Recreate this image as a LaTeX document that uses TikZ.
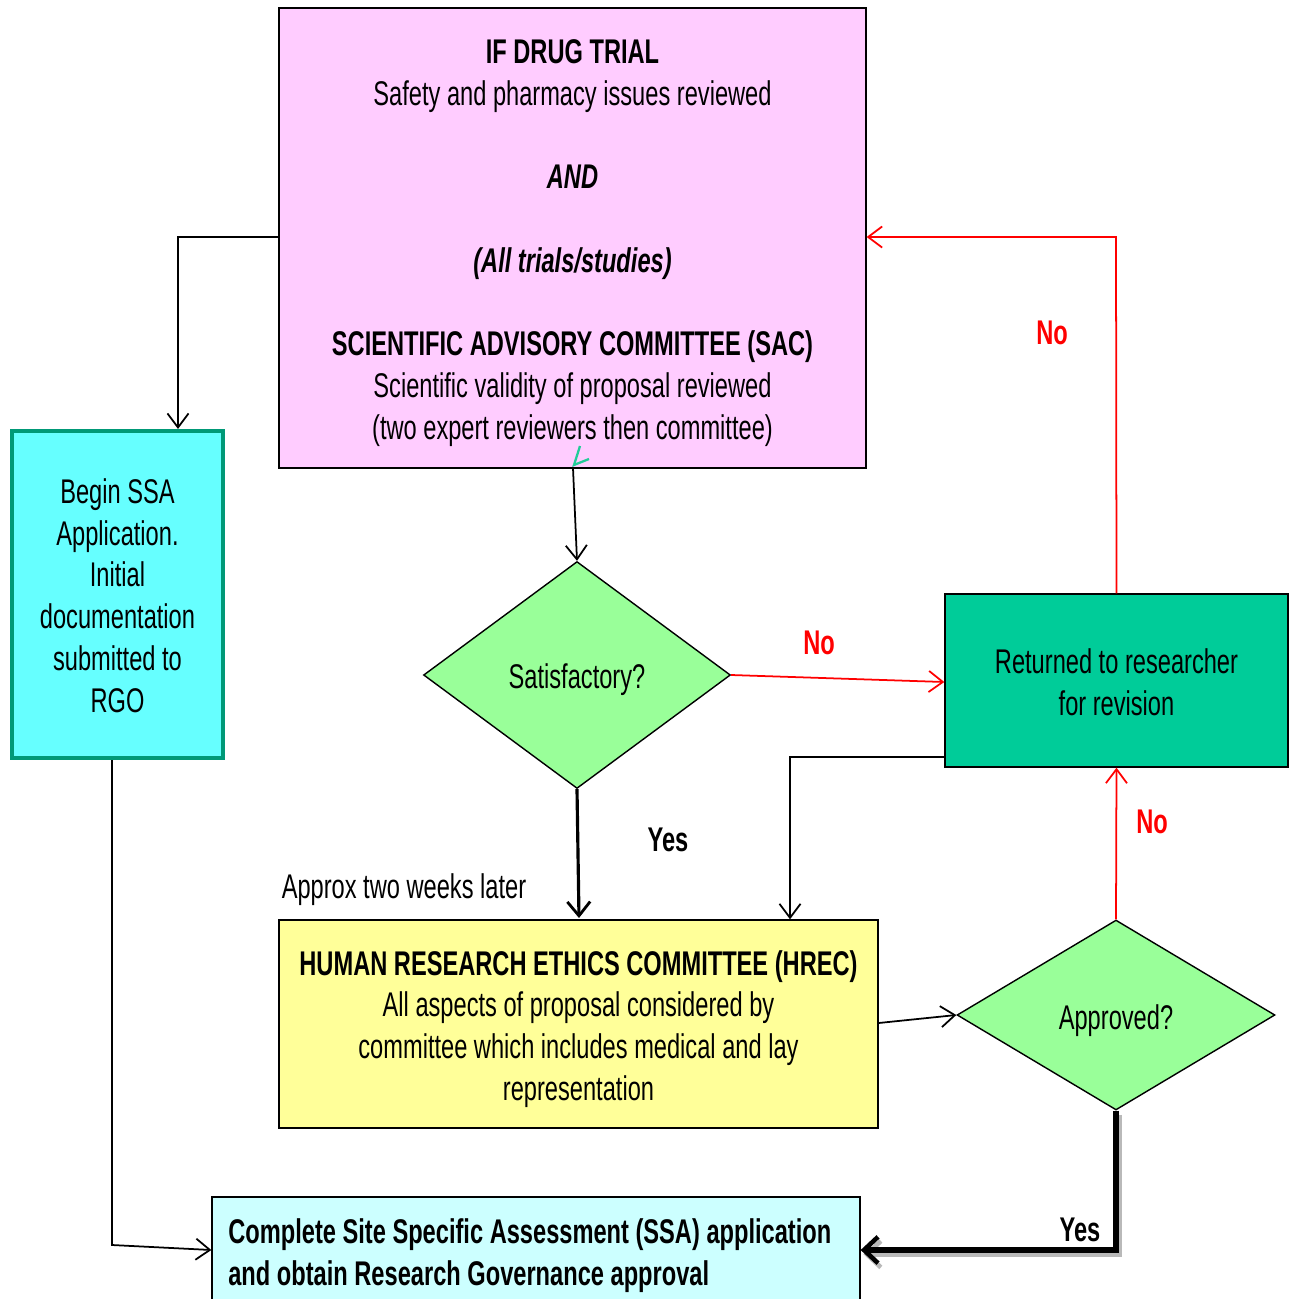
\documentclass[tikz,border=0pt]{standalone}
\usepackage{fontspec}
\setmainfont{Liberation Sans}[FakeStretch=0.69]
\usetikzlibrary{arrows.meta,shapes.geometric}
\definecolor{pinkbox}{HTML}{FFCCFF}
\definecolor{cyanbox}{HTML}{66FFFF}
\definecolor{tealedge}{HTML}{009977}
\definecolor{retbox}{HTML}{00CC99}
\definecolor{hrecbox}{HTML}{FFFF99}
\definecolor{diamfill}{HTML}{99FF99}
\definecolor{ssabox}{HTML}{CCFFFF}
\definecolor{tickcol}{HTML}{22CC99}
\begin{document}
\begin{tikzpicture}[x=0.02cm,y=-0.02cm,
  txt/.style={font=\fontsize{19.5}{23.8}\selectfont},
  boxnode/.style={draw=black,line width=0.8pt,inner sep=0pt},
  boxtext/.style={txt,align=center,inner sep=0pt},
  decision/.style={diamond,draw=black,line width=0.8pt,fill=diamfill,inner sep=0pt},
  conn/.style={line width=1pt,-{Straight Barb[length=8pt,width=12pt,line width=1pt]}},
  redconn/.style={conn,draw=red},
  thickconn/.style={line width=1.8pt,-{Straight Barb[length=8pt,width=13pt,line width=1.6pt]}},
  heavyconn/.style={line width=3.4pt,-{Straight Barb[length=8pt,width=15pt,line width=2.6pt]}},
  lbl/.style={txt,font=\fontsize{19.5}{23.8}\selectfont\bfseries},
  redlbl/.style={lbl,text=red}]
\useasboundingbox (0,0) rectangle (1290,1299);
\clip (0,0) rectangle (1290,1299);

% boxes
\node[boxnode,fill=pinkbox,minimum width=11.74cm,minimum height=9.2cm] (sac) at (572.5,238) {};
\node[boxtext] (sac-t) at (572.5,243)
  {\textbf{IF DRUG TRIAL}\\Safety and pharmacy issues reviewed\\[23.8pt]\textbf{\textit{AND}}\\[23.8pt]\textbf{\textit{(All trials/studies)}}\\[23.8pt]\textbf{SCIENTIFIC ADVISORY COMMITTEE (SAC)}\\Scientific validity of proposal reviewed\\(two expert reviewers then committee)};

\node[boxnode,fill=cyanbox,draw=tealedge,line width=2.4pt,minimum width=4.22cm,minimum height=6.54cm] (ssa) at (117.5,594.5) {};
\node[boxtext] (ssa-t) at (117.5,595.5)
  {Begin SSA\\Application.\\Initial\\documentation\\submitted to\\RGO};

\node[decision,minimum width=6.14cm,minimum height=4.54cm] (sat) at (577,675) {};
\node[boxtext] (sat-t) at (577,680) {Satisfactory?};

\node[boxnode,fill=retbox,minimum width=6.86cm,minimum height=3.46cm] (ret) at (1116.5,680.5) {};
\node[boxtext] (ret-t) at (1116.5,682.5) {Returned to researcher\\for revision};

\node[boxnode,fill=hrecbox,minimum width=11.98cm,minimum height=4.16cm] (hrec) at (578.5,1024) {};
\node[boxtext] (hrec-t) at (578.5,1029)
  {\textbf{HUMAN RESEARCH ETHICS COMMITTEE (HREC)}\\All aspects of proposal considered by\\committee which includes medical and lay\\representation};

\node[decision,minimum width=6.36cm,minimum height=3.8cm] (appr) at (1116,1015) {};
\node[boxtext] (appr-t) at (1116,1021) {Approved?};

\node[boxnode,fill=ssabox,minimum width=12.96cm,minimum height=2.52cm] (final) at (536,1260) {};
\node[lbl,anchor=west,align=left,inner sep=0pt] (final-t) at (228,1256)
  {Complete Site Specific Assessment (SSA) application\\and obtain Research Governance approval};

% coordinates
\coordinate (c1) at (178,237);
\coordinate (c2) at (1116,237);
\coordinate (c3) at (790,757);
\coordinate (c4) at (1116,1250);
\coordinate (c5) at (112,1245);

% connectors
\draw[conn] (sac.west |- c1) -- (c1) -- (c1 |- ssa.north);
\draw[conn] (573,468) -- (sat.north);
\draw[tickcol,line width=1.3pt] (589,459) -- (574,465) -- (580,446);
\draw[redconn] (sat.east) -- (ret.west |- 0,682);
\node[redlbl] (no1) at (819,643) {No};
\draw[thickconn] (sat.south) -- (579,918);
\node[lbl] (yes1) at (668,840) {Yes};
\node[txt] (approx) at (404,890) {Approx two weeks later};
\draw[redconn] (ret.north) -- (c2) -- (sac.east |- c2);
\node[redlbl] (no2) at (1052,333) {No};
\draw[conn] (ret.west |- c3) -- (c3) -- (c3 |- hrec.north);
\draw[conn] (hrec.east |- 0,1023) -- (appr.west);
\draw[redconn] (appr.north) -- (ret.south);
\node[redlbl] (no3) at (1152,822) {No};
\draw[heavyconn,gray!55,transform canvas={shift={(1.6pt,-2.4pt)}}] (appr.south) -- (c4) -- (final.east |- c4);
\draw[heavyconn] (appr.south) -- (c4) -- (final.east |- c4);
\node[lbl] (yes2) at (1080,1230) {Yes};
\draw[conn] (ssa.south -| c5) -- (c5) -- (final.west |- 0,1250);
\end{tikzpicture}
\end{document}
